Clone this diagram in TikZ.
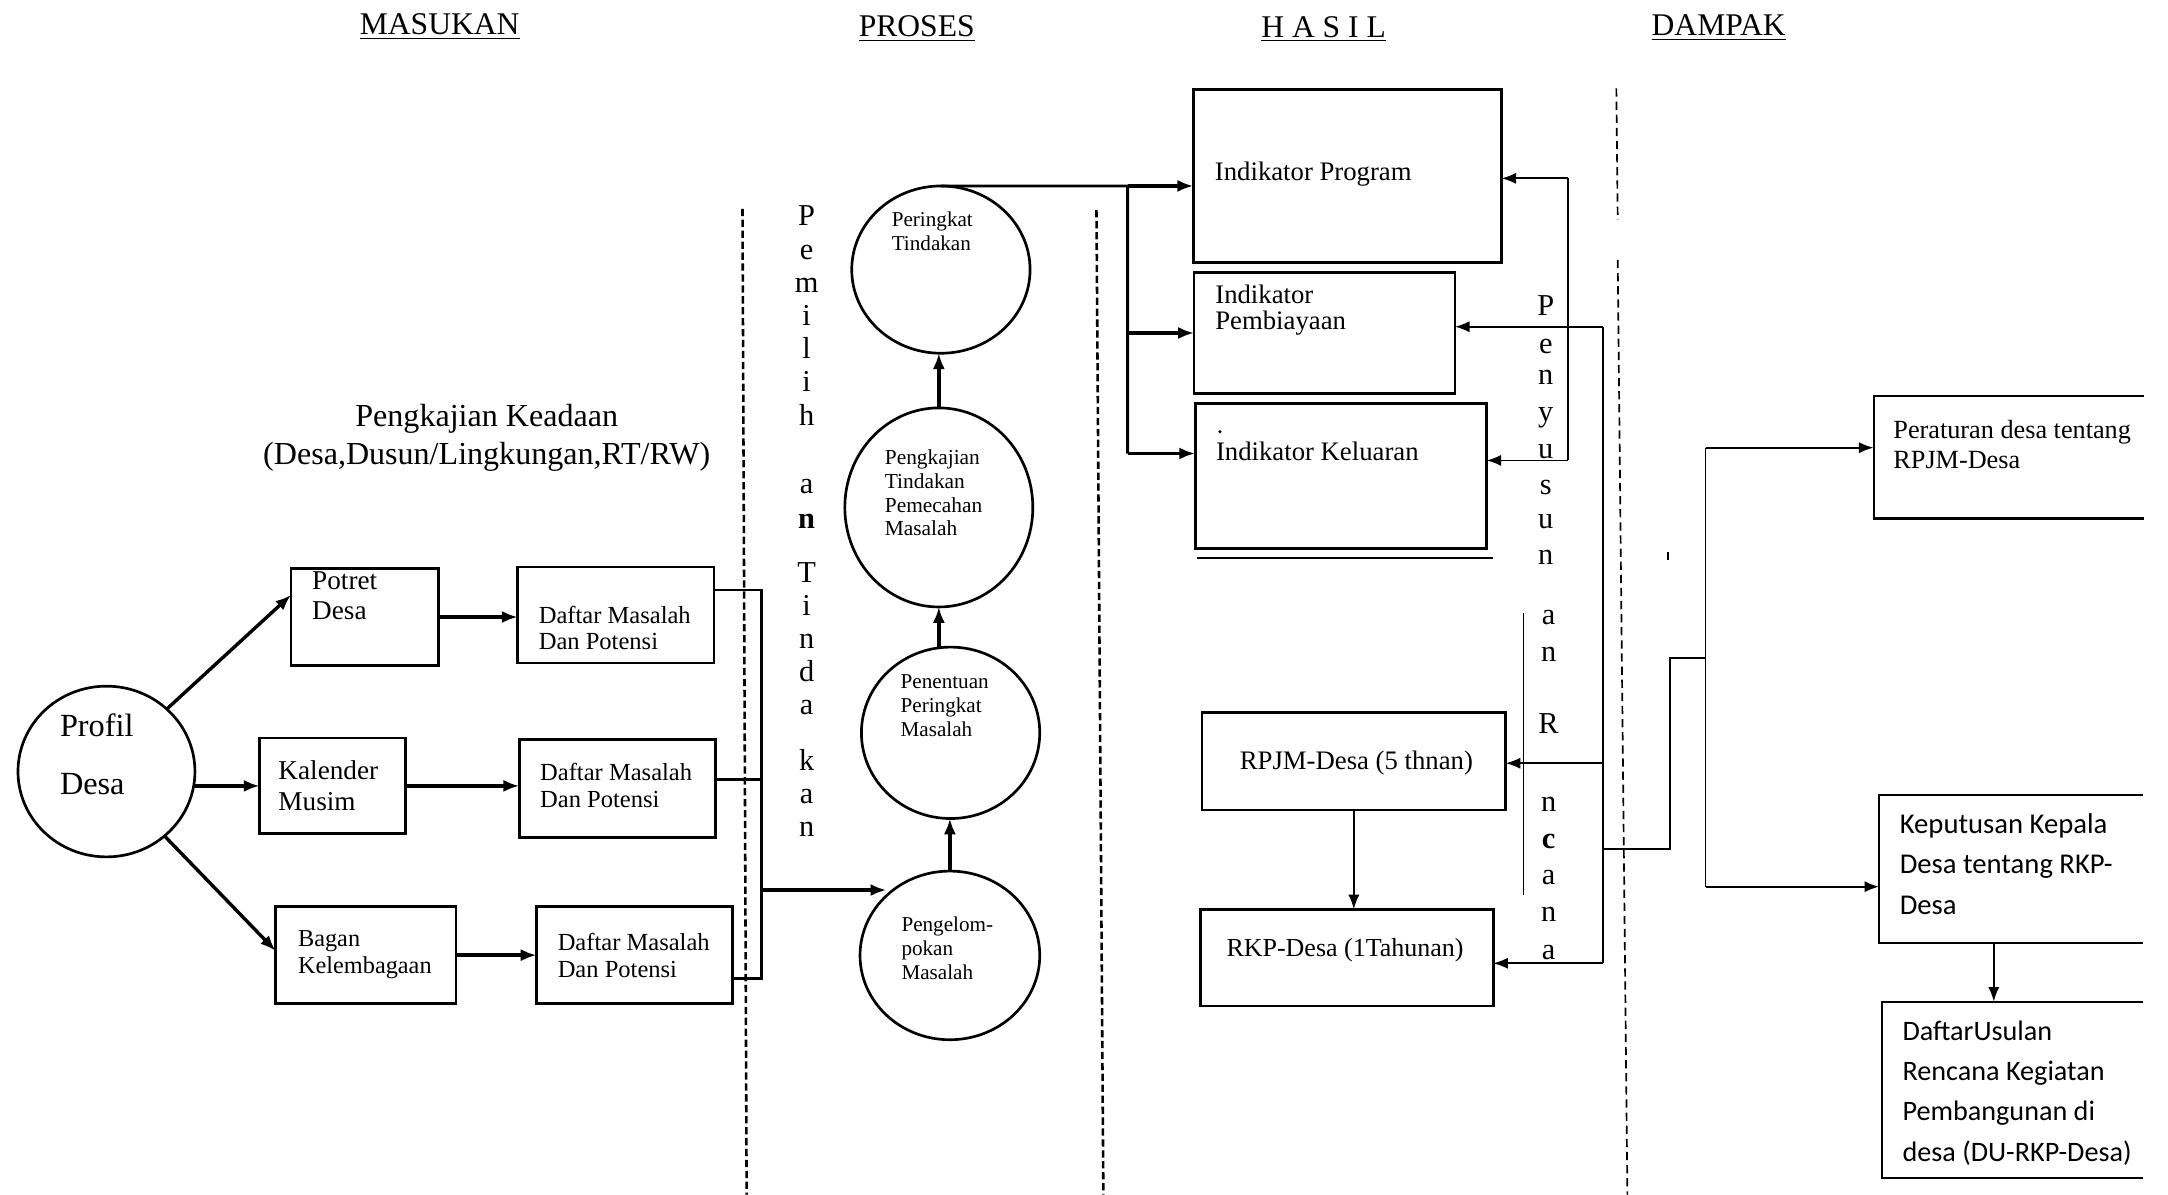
\documentclass[tikz,border=0pt]{standalone}
\usepackage{fontspec}
\setmainfont{Liberation Serif}
\newfontfamily\calfont{Carlito}
\usetikzlibrary{arrows.meta,calc,shapes.geometric}
\newcommand\mytl[1]{\begin{tabular}[t]{@{}l@{}}#1\end{tabular}}
\newcommand\mytc[1]{\begin{tabular}[t]{@{}c@{}}#1\end{tabular}}
\newcommand\fs[2]{\fontsize{#1}{#2}\selectfont}
\begin{document}
\begin{tikzpicture}[x=0.02cm,y=-0.02cm,
  shp/.style={draw,line width=1.1pt,inner sep=0pt,outer sep=0pt},
  rbox/.style={shp,rectangle},
  ell/.style={shp,ellipse},
  openbox/.style={rectangle,inner sep=0pt,outer sep=0pt},
  txt/.style={anchor=base west,inner sep=0pt,outer sep=0pt},
  ctxt/.style={anchor=base,inner sep=0pt,outer sep=0pt},
  ln/.style={line width=1.2pt},
  thinln/.style={line width=0.75pt},
  arr/.style={line width=1.4pt,-{Latex[length=6.5pt,width=5pt]}},
  tarr/.style={line width=0.75pt,-{Latex[length=6pt,width=4.6pt]}},
  dline/.style={line width=1.05pt,dash pattern=on 3pt off 1.5pt},
  dlinethin/.style={line width=0.7pt,dash pattern=on 3.4pt off 2pt},
  hdr/.style={ctxt,font=\fs{13}{15}},
]
\fill[white] (0,0) rectangle (1568,864);
\useasboundingbox (0,0) rectangle (1568,864);

% headers
\node[hdr] (hm) at (318,25) {\underline{MASUKAN}};
\node[hdr] (hp) at (663,26.3) {\underline{PROSES}};
\node[hdr] (hh) at (957.3,26.8) {\underline{H A S I L}};
\node[hdr] (hd) at (1243,26) {\underline{DAMPAK}};

% dashed separators
\draw[dline] (537,151) -- (540,864);
\draw[dline] (793,152) -- (798,864);
\draw[dlinethin] (1169,64) -- (1170,159);
\draw[dlinethin] (1170,188) -- (1177,864);

% MASUKAN
\node[ctxt,font=\fs{13.2}{15.7}] (pk) at (352,308.6) {\mytc{Pengkajian Keadaan\\(Desa,Dusun/Lingkungan,RT/RW)}};

\node[ell,minimum width=2.56cm,minimum height=2.47cm] (profil) at (77,558) {};
\node[txt,font=\fs{13.3}{23.8}] (profilt) at (43.4,532.8) {\mytl{Profil\\Desa}};

\node[rbox,minimum width=2.13cm,minimum height=1.41cm] (potret) at (263.75,446.25) {};
\node[txt,font=\fs{11.2}{12.6}] (potrett) at (225.8,426) {\mytl{Potret\\Desa}};
\node[rbox,minimum width=2.112cm,minimum height=1.384cm] (kal) at (240.5,568.4) {};
\node[txt,font=\fs{11.2}{12.7}] (kalt) at (201.4,564) {\mytl{Kalender\\Musim}};
\node[rbox,minimum width=2.608cm,minimum height=1.408cm] (bagan) at (264.6,690.8) {};
\node[txt,font=\fs{10}{11}] (bagant) at (215.6,684.4) {\mytl{Bagan\\Kelembagaan}};

\node[rbox,minimum width=2.842cm,minimum height=1.39cm] (d1) at (445.45,444.75) {};
\node[txt,font=\fs{10.1}{11}] (d1t) at (389.7,450.6) {\mytl{Daftar Masalah\\Dan Potensi}};
\node[rbox,minimum width=2.84cm,minimum height=1.414cm] (d2) at (446.5,570.35) {};
\node[txt,font=\fs{10.1}{11}] (d2t) at (390.7,564.7) {\mytl{Daftar Masalah\\Dan Potensi}};
\node[rbox,minimum width=2.84cm,minimum height=1.408cm] (d3) at (459,690.8) {};
\node[txt,font=\fs{10.1}{11}] (d3t) at (403.4,687.4) {\mytl{Daftar Masalah\\Dan Potensi}};

\draw[arr] (profil.46) -- ($(potret.west)+(0,-16)$);
\draw[arr] (kal.west -| profil.east) -- (kal.west);
\draw[arr] (profil.-48) -- ($(bagan.west)+(0,-3)$);
\draw[arr] (potret.east) -- (potret.east -| d1.west);
\draw[arr] (kal.east) -- (kal.east -| d2.west);
\draw[arr] (bagan.east) -- (bagan.east -| d3.west);

\coordinate (bt) at (550.5,426.7);
\coordinate (bm) at (550.5,564);
\coordinate (bb) at (550.5,708);
\coordinate (bo) at (550.5,643.7);
\draw[ln] (bt -| d1.east) -- (bt) -- (bb) -- (bb -| d3.east);
\draw[ln] (bm -| d2.east) -- (bm);

% Pemilihan Tindakan
\foreach \ch/\yy [count=\i] in {P/163,e/187.5,m/211.5,i/235.5,l/259.5,i/283.5,h/307.5,a/357,{\textbf{n}}/382,T/421,i/445,n/469,d/493,a/517,k/557,a/581,n/605}
  \node[ctxt,font=\fs{12.5}{14}] (pm\i) at (583.4,\yy) {\ch};

% PROSES
\node[ell,minimum width=2.58cm,minimum height=2.42cm] (prt) at (680.5,195) {};
\node[txt,font=\fs{8.7}{9.8}] (prtt) at (645,164) {\mytl{Peringkat\\Tindakan}};
\node[ell,minimum width=2.72cm,minimum height=2.88cm] (pkj) at (679,367) {};
\node[txt,font=\fs{8.8}{9.8}] (pkjt) at (640,336) {\mytl{Pengkajian\\Tindakan\\Pemecahan\\Masalah}};
\node[ell,minimum width=2.58cm,minimum height=2.48cm] (pen) at (687.5,530) {};
\node[txt,font=\fs{8.7}{9.9}] (pent) at (651.4,497.8) {\mytl{Penentuan\\Peringkat\\Masalah}};
\node[ell,minimum width=2.6cm,minimum height=2.44cm] (pgk) at (687,691) {};
\node[txt,font=\fs{8.7}{9.9}] (pgkt) at (652,673.8) {\mytl{Pengelom-\\pokan\\Masalah}};

\draw[arr] (bo) -- (bo -| pgk.north west);
\draw[arr] (pgk.north) -- (pgk.north |- pen.south);
\draw[arr] (pen.north -| pkj.south) -- (pkj.south);
\draw[arr] (pkj.north) -- (pkj.north |- prt.south);

% HASIL
\node[rbox,line width=1.2pt,minimum width=4.46cm,minimum height=2.508cm] (ip) at (974.5,127.3) {};
\node[txt,font=\fs{11}{12}] (ipt) at (878.7,130.2) {Indikator Program};
\node[rbox,line width=1.2pt,minimum width=3.776cm,minimum height=1.746cm] (pb) at (957.9,240.85) {};
\node[txt,font=\fs{11}{10.9}] (pbt) at (879,219.4) {\mytl{Indikator\\Pembiayaan}};
\node[rbox,line width=1.2pt,minimum width=4.218cm,minimum height=2.098cm] (kl) at (969.75,344.15) {};
\node[txt,font=\fs{11}{12}] (klt) at (879.5,332.7) {Indikator Keluaran};
\draw[line width=0.8pt] (866,403.7) -- (1080,403.7);
\fill (882.3,312.2) circle (0.7pt);

\node[rbox,line width=1.1pt,minimum width=4.394cm,minimum height=1.412cm] (rpjm) at (979.15,550.5) {};
\node[ctxt,font=\fs{11}{12}] (rpjmt) at (981,556.7) {RPJM-Desa (5 thnan)};
\node[rbox,line width=1.1pt,minimum width=4.24cm,minimum height=1.398cm] (rkp) at (974,692.55) {};
\node[ctxt,font=\fs{10.7}{12}] (rkpt) at (972.8,691.8) {RKP-Desa (1Tahunan)};
\draw[tarr] (rpjm.south) -- (rpjm.south |- rkp.north);

\coordinate (jx) at (815.5,134.5);
\coordinate (jy) at (815.5,328);
\draw[ln] (prt.north) -- (jx) -- (jy);
\draw[arr] (jx) -- (jx -| ip.west);
\draw[arr] (jx |- pb.west) -- (pb.west);
\draw[arr] (jy) -- (jy -| kl.west);

% Penyusunan Rencana
\foreach \ch/\xx/\yy [count=\i] in {P/1118/228.5,e/1118/255.5,n/1118/278.4,y/1118/305,u/1118/331.5,s/1118/358,u/1118/382,n/1118/408.6,a/1120/452,n/1120/478.5,R/1120/530.4,n/1120/587,{\textbf{c}}/1120/613.5,a/1120/640,n/1120/666.6,a/1120/694.3}
  \node[ctxt,font=\fs{12.5}{14}] (ps\i) at (\xx,\yy) {\ch};

\coordinate (r1t) at (1134.3,129);
\coordinate (r1b) at (1134.3,333);
\draw[thinln] (r1t) -- (r1b);
\draw[tarr] (r1t) -- (r1t -| ip.east);
\draw[tarr] (r1b) -- (r1b -| kl.east);

\coordinate (r2t) at (1159.5,236.3);
\coordinate (r2m) at (1159.5,552);
\coordinate (r2b) at (1159.5,696.7);
\draw[thinln] (r2t) -- (r2b);
\draw[tarr] (r2t) -- (r2t -| pb.east);
\draw[tarr] (r2m) -- (r2m -| rpjm.east);
\draw[tarr] (r2b) -- (r2b -| rkp.east);
\draw[line width=0.5pt] (1101.7,443.6) -- (1101.7,647.3);

% DAMPAK
\node[openbox,minimum width=3.92cm,minimum height=1.768cm] (per) at (1453,330.8) {};
\draw[line width=0.85pt] (per.north east) -- (per.north west) -- (per.south west) -- (per.south east);
\node[txt,font=\fs{10.8}{12.3}] (pert) at (1369.4,317.3) {\mytl{Peraturan desa tentang\\RPJM-Desa}};

\node[openbox,minimum width=3.82cm,minimum height=2.136cm] (kep) at (1454.5,628.4) {};
\draw[line width=0.85pt] (kep.north east) -- (kep.north west) -- (kep.south west) -- (kep.south east);
\node[txt,font=\calfont\fs{11.8}{16.7}] (kept) at (1374,602.7) {\mytl{Keputusan Kepala\\Desa tentang RKP-\\Desa}};

\node[openbox,minimum width=3.78cm,minimum height=2.556cm] (du) at (1455.5,788.3) {};
\draw[line width=0.85pt] (du.north east) -- (du.north west) -- (du.south west) -- (du.south east);
\node[txt,font=\calfont\fs{11.6}{16.6}] (dut) at (1376,752.2) {\mytl{DaftarUsulan\\Rencana Kegiatan\\Pembangunan di\\desa (DU-RKP-Desa)}};

\coordinate (o1) at (1159.5,614);
\coordinate (o2) at (1207.8,614);
\coordinate (o3) at (1207.8,476);
\coordinate (o4) at (1233.5,476);
\coordinate (ot) at (1233.5,323.8);
\coordinate (ob) at (1233.5,641.3);
\draw[thinln] (o1) -- (o2) -- (o3) -- (o4);
\draw[thinln] (ot) -- (ob);
\draw[tarr] (ot) -- (ot -| per.west);
\draw[tarr] (ob) -- (ob -| kep.west);
\draw[line width=0.7pt] (1206.6,399) -- (1206.6,405);

\coordinate (kd) at (1442,681.8);
\draw[tarr] (kd) -- (kd |- du.north);
\end{tikzpicture}
\end{document}
